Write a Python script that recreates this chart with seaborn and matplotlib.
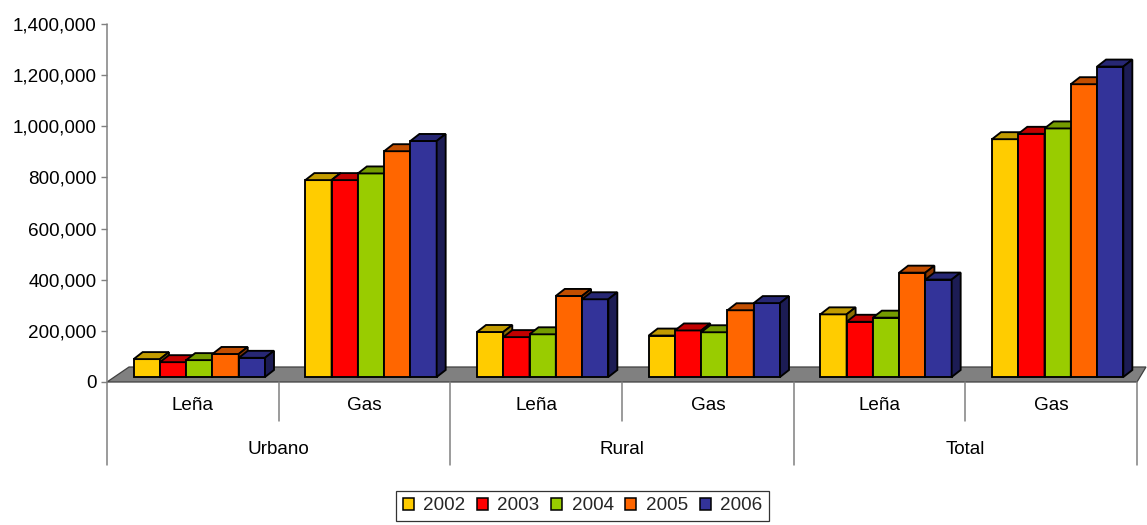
import matplotlib
matplotlib.use("Agg")
import numpy as np
import pandas as pd
import matplotlib.pyplot as plt
import seaborn as sns
from matplotlib.patches import Polygon, Patch
from matplotlib.transforms import ScaledTranslation, blended_transform_factory
from matplotlib.ticker import FuncFormatter
from matplotlib.colors import to_rgb

# ---- data -------------------------------------------------------------
areas = ["Urbano", "Rural", "Total"]
fuels = ["Leña", "Gas"]
years = ["2002", "2003", "2004", "2005", "2006"]

# order: Urbano-Leña, Urbano-Gas, Rural-Leña, Rural-Gas, Total-Leña, Total-Gas
values_2002 = [70000, 770000, 176000, 162000, 245000, 930000]
values_2003 = [58000, 770000, 156000, 182000, 216000, 951000]
values_2004 = [66000, 796000, 167000, 175000, 232000, 972000]
values_2005 = [90000, 883000, 317000, 261000, 408000, 1145000]
values_2006 = [75000, 923000, 304000, 289000, 381000, 1214000]

year_colors = ["#FFCC00", "#FF0000", "#99CC00", "#FF6600", "#333399"]

y_ticks = [0, 200000, 400000, 600000, 800000, 1000000, 1200000, 1400000]

# ---- long table -------------------------------------------------------
series = [values_2002, values_2003, values_2004, values_2005, values_2006]
cat_keys = [f"{a}|{f}" for a in areas for f in fuels]
rows = []
for yr, vals in zip(years, series):
    for key, v in zip(cat_keys, vals):
        rows.append({"categoria": key, "anio": yr, "valor": v})
df = pd.DataFrame(rows)

# ---- figure -----------------------------------------------------------
sns.set_style("white")
plt.rcParams["font.family"] = ["Liberation Sans", "DejaVu Sans"]
FS = 13.6
EDGE = 1.35

W, H = 1147, 525
fig = plt.figure(figsize=(W / 100, H / 100), dpi=100)
ax = fig.add_axes([107 / W, (H - 382) / H, 1030 / W, 358 / H])

sns.barplot(data=df, x="categoria", y="valor", hue="anio",
            order=cat_keys, hue_order=years, palette=year_colors,
            width=0.765, gap=0, dodge=True, saturation=1, errorbar=None,
            edgecolor="black", linewidth=EDGE, legend=False, ax=ax)

ax.set_xlim(-0.5, len(cat_keys) - 0.5)
ax.set_ylim(y_ticks[0], y_ticks[-1])

# pixel → data scale factors
px_x = ax.bbox.width / (len(cat_keys))
px_y = ax.bbox.height / (y_ticks[-1] - y_ticks[0])

# floor of the 3-D plot
x0, x1 = -0.5, len(cat_keys) - 0.5
floor = Polygon([(x0, 0), (x1, 0), (x1 + 9 / px_x, 15 / px_y), (x0 + 22 / px_x, 15 / px_y)],
                closed=True, facecolor="#808080", edgecolor="#404040",
                linewidth=0.9, zorder=1, clip_on=False)
ax.add_patch(floor)

# 3-D boxes: shift fronts into the floor, then add top and side faces
shift = ScaledTranslation(6.5 / 100, 5 / 100, fig.dpi_scale_trans)
btrans = ax.transData + shift
ddx, ddy = 9 / px_x, 7 / px_y


def shade(c, k):
    r, g, b = to_rgb(c)
    return (r * k, g * k, b * k)


for h, (cont, col) in enumerate(zip(ax.containers, year_colors)):
    for rect in cont:
        x, w = rect.get_x(), rect.get_width()
        y, hh = rect.get_y(), rect.get_height()
        rect.set_transform(btrans)
        rect.set_zorder(3 + 3 * h)
        rect.set_clip_on(False)
        top = Polygon([(x, y + hh), (x + w, y + hh), (x + w + ddx, y + hh + ddy),
                       (x + ddx, y + hh + ddy)], closed=True,
                      facecolor=shade(col, 0.76), edgecolor="black", linewidth=EDGE,
                      transform=btrans, zorder=4 + 3 * h, clip_on=False)
        side = Polygon([(x + w, y), (x + w + ddx, y + ddy), (x + w + ddx, y + hh + ddy),
                        (x + w, y + hh)], closed=True,
                       facecolor=shade(col, 0.55), edgecolor="black", linewidth=EDGE,
                       transform=btrans, zorder=4 + 3 * h, clip_on=False)
        ax.add_patch(top)
        ax.add_patch(side)

# ---- axes styling ------------------------------------------------------
for s in ax.spines.values():
    s.set_visible(False)
ax.set_xlabel("")
ax.set_ylabel("")
ax.set_xticks([])
ax.set_yticks(y_ticks)
ax.yaxis.set_major_formatter(FuncFormatter(lambda v, p: f"{int(v):,}"))
ax.tick_params(axis="y", which="major", direction="out", length=4.5, width=1,
               color="#808080", pad=3, labelsize=FS, labelcolor="black", left=True)
ax.grid(False)

gray = "#808080"
bt = blended_transform_factory(ax.transData, ax.transAxes)
low_inner = (382 - 421) / 358
low_outer = (382 - 465) / 358

# vertical axis line continuing down through the category labels
ax.plot([x0, x0], [1, low_outer], transform=bt, color=gray, lw=1.1,
        clip_on=False, zorder=2)
# category dividers
for i in range(len(areas)):
    xi = 2 * i + 0.5
    ax.plot([xi, xi], [0, low_inner], transform=bt, color=gray, lw=1.1,
            clip_on=False, zorder=2)
for i in range(1, len(areas) + 1):
    xo = 2 * i - 0.5
    ax.plot([xo, xo], [0, low_outer], transform=bt, color=gray, lw=1.1,
            clip_on=False, zorder=2)

# two-level category labels
for i, key in enumerate(cat_keys):
    ax.text(i, (382 - 406) / 358, key.split("|")[1], transform=bt,
            ha="center", va="center", fontsize=FS, color="black")
for i, a in enumerate(areas):
    ax.text(2 * i + 0.5, (382 - 449) / 358, a, transform=bt,
            ha="center", va="center", fontsize=FS, color="black")

# ---- legend -----------------------------------------------------------
handles = [Patch(facecolor=c, edgecolor="black", linewidth=1.1) for c in year_colors]
leg = fig.legend(handles, years, loc="center", bbox_to_anchor=(582.5 / W, 1 - 506 / H),
                 ncol=5, frameon=True, fancybox=False, fontsize=FS,
                 handlelength=0.58, handleheight=0.58, handletextpad=0.5,
                 columnspacing=0.62, borderpad=0.35, borderaxespad=0)
leg.get_frame().set_edgecolor("black")
leg.get_frame().set_linewidth(0.9)

fig.savefig("out.png", dpi=100, facecolor="white")
